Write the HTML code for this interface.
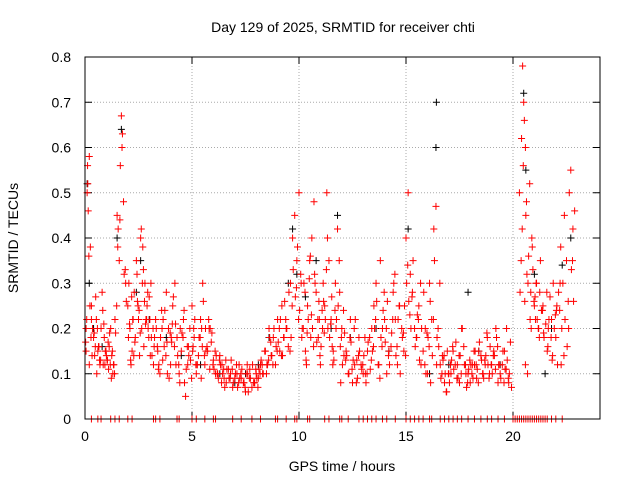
<!DOCTYPE html>
<html><head><meta charset="utf-8"><style>
body{margin:0;background:#fff;font-family:"Liberation Sans",sans-serif}
svg text{font-family:"Liberation Sans",sans-serif;font-size:14px;fill:#000}
</style></head><body>
<svg id="chart" width="640" height="480">
<rect x="0" y="0" width="640" height="480" fill="#fff"/>
<text x="343" y="32" text-anchor="middle">Day 129 of 2025, SRMTID for receiver chti</text>
<text x="342" y="471" text-anchor="middle">GPS time / hours</text>
<text transform="translate(18,238) rotate(-90)" text-anchor="middle">SRMTID / TECUs</text>
<g id="grid"></g><g id="ticks"></g><g id="marks"></g>
<rect x="85" y="57" width="515" height="362" fill="none" stroke="#000"/>
</svg>
<script>
const xTicks=[0,5,10,15,20];
const yTicks=[0,0.1,0.2,0.3,0.4,0.5,0.6,0.7,0.8];
const redT=[0.05,0.1,0.12,0.15,0.2,0.25,0.3,0.35,0.4,0.5,0.6,0.7,0.8,0.9,1.0,1.1,1.2,1.3,1.4,1.5,1.55,1.6,1.65,1.7,1.75,1.8,1.9,2.0,2.1,2.2,2.3,2.4,2.5,2.6,2.7,2.8,2.9,3.0,3.1,3.2,3.3,3.4,3.5,3.6,3.7,3.8,3.9,4.0,4.1,4.2,4.3,4.4,4.5,4.6,4.7,4.8,4.9,5.0,5.1,5.2,5.3,5.4,5.5,5.6,5.7,5.8,5.9,6.0,6.2,6.4,6.6,6.8,7.0,7.2,7.4,7.6,7.8,8.0,8.2,8.4,8.6,8.8,9.0,9.2,9.4,9.6,9.7,9.8,9.9,10.0,10.1,10.2,10.3,10.4,10.5,10.6,10.7,10.8,10.9,11.0,11.1,11.2,11.3,11.4,11.5,11.6,11.7,11.8,11.9,12.0,12.2,12.4,12.6,12.8,13.0,13.2,13.4,13.6,13.8,14.0,14.2,14.4,14.6,14.8,15.0,15.1,15.2,15.4,15.6,15.8,16.0,16.1,16.2,16.3,16.4,16.5,16.6,16.8,17.0,17.2,17.4,17.6,17.8,18.0,18.2,18.4,18.6,18.8,19.0,19.2,19.4,19.6,19.8,20.3,20.4,20.45,20.5,20.6,20.7,20.8,20.9,21.0,21.1,21.2,21.4,21.6,21.8,22.0,22.2,22.4,22.5,22.6,22.7,22.8,
0.05,0.2,0.3,0.45,0.55,0.65,0.75,0.85,0.95,1.05,1.15,1.25,1.35,2.05,2.15,2.25,2.35,2.45,2.55,2.65,2.75,2.85,2.95,3.05,3.25,3.45,3.65,3.85,4.05,4.25,4.45,4.65,4.85,5.05,5.25,5.45,5.65,5.85,6.1,6.3,6.5,6.7,6.9,7.1,7.3,7.5,7.7,7.9,8.1,8.3,8.5,8.7,8.9,9.1,9.3,9.5,10.15,10.35,10.55,10.75,10.95,11.15,11.35,11.55,11.75,11.95,12.1,12.3,12.5,12.7,12.9,13.1,13.3,13.5,13.7,13.9,14.1,14.3,14.5,14.7,14.9,15.3,15.5,15.7,15.9,16.15,16.45,16.7,16.9,17.1,17.3,17.5,17.7,17.9,18.1,18.3,18.5,18.7,18.9,19.1,19.3,19.5,19.7,20.55,20.65,20.85,21.05,21.25,21.45,21.65,21.85,22.05,22.25,22.45,22.65];
const redV=[0.2,0.5,0.56,0.46,0.58,0.38,0.22,0.2,0.18,0.27,0.15,0.12,0.28,0.18,0.14,0.11,0.2,0.1,0.22,0.45,0.42,0.35,0.56,0.67,0.63,0.48,0.3,0.25,0.2,0.15,0.28,0.35,0.22,0.4,0.38,0.3,0.25,0.27,0.18,0.12,0.22,0.15,0.1,0.2,0.16,0.28,0.2,0.12,0.25,0.3,0.18,0.1,0.15,0.22,0.05,0.12,0.2,0.25,0.18,0.1,0.14,0.22,0.3,0.12,0.16,0.2,0.17,0.13,0.1,0.12,0.08,0.1,0.09,0.12,0.08,0.1,0.07,0.1,0.12,0.15,0.2,0.18,0.22,0.25,0.2,0.3,0.4,0.45,0.35,0.5,0.3,0.2,0.15,0.25,0.35,0.4,0.48,0.28,0.18,0.12,0.2,0.25,0.5,0.35,0.22,0.15,0.3,0.42,0.28,0.2,0.15,0.22,0.12,0.18,0.1,0.15,0.2,0.3,0.35,0.22,0.15,0.28,0.12,0.2,0.4,0.5,0.32,0.2,0.25,0.15,0.1,0.3,0.22,0.42,0.47,0.2,0.12,0.08,0.1,0.15,0.12,0.2,0.1,0.08,0.12,0.15,0.1,0.18,0.12,0.2,0.1,0.15,0.08,0.5,0.62,0.78,0.7,0.45,0.3,0.22,0.38,0.25,0.3,0.2,0.25,0.15,0.22,0.18,0.3,0.45,0.35,0.2,0.55,0.42,
0.15,0.12,0.25,0.14,0.1,0.16,0.2,0.12,0.15,0.13,0.19,0.14,0.12,0.3,0.12,0.22,0.18,0.26,0.14,0.2,0.16,0.22,0.2,0.14,0.18,0.12,0.22,0.1,0.17,0.12,0.2,0.08,0.14,0.16,0.12,0.2,0.15,0.2,0.1,0.14,0.09,0.11,0.07,0.1,0.09,0.06,0.11,0.08,0.09,0.1,0.12,0.14,0.12,0.15,0.18,0.16,0.2,0.12,0.18,0.3,0.22,0.26,0.2,0.16,0.22,0.08,0.14,0.1,0.08,0.13,0.12,0.1,0.18,0.25,0.12,0.2,0.1,0.16,0.22,0.25,0.15,0.28,0.18,0.12,0.2,0.08,0.18,0.14,0.06,0.1,0.12,0.08,0.16,0.1,0.12,0.09,0.14,0.12,0.1,0.15,0.08,0.12,0.2,0.26,0.32,0.2,0.22,0.28,0.18,0.2,0.14,0.25,0.12];
const redT2=[0.03,0.13,0.23,0.33,0.43,0.53,0.63,0.73,0.83,0.93,1.03,1.13,1.23,1.33,1.43,1.53,1.63,1.73,1.83,1.93,2.03,2.13,2.23,2.33,2.43,2.53,2.63,2.73,2.83,2.93,3.03,3.13,3.23,3.33,3.43,3.53,3.63,3.73,3.83,3.93,4.03,4.13,4.23,4.33,4.43,4.53,4.63,4.73,4.83,4.93,5.03,5.13,5.23,5.33,5.43,5.53,5.63,5.73,5.83,5.93,6.03,6.13,6.23,6.33,6.43,6.53,6.63,6.73,6.83,6.93,7.03,7.13,7.23,7.33,7.43,7.53,7.63,7.73,7.83,7.93,8.03,8.13,8.23,8.33,8.43,8.53,8.63,8.73,8.83,8.93,9.03,9.13,9.23,9.33,9.43,9.53,9.63,9.73,9.83,9.93,10.03,10.13,10.23,10.33,10.43,10.53,10.63,10.73,10.83,10.93,11.03,11.13,11.23,11.33,11.43,11.53,11.63,11.73,11.83,11.93,12.03,12.13,12.23,12.33,12.43,12.53,12.63,12.73,12.83,12.93,13.03,13.13,13.23,13.33,13.43,13.53,13.63,13.73,13.83,13.93,14.03,14.13,14.23,14.33,14.43,14.53,14.63,14.73,14.83,14.93,15.03,15.13,15.23,15.33,15.43,15.53,15.63,15.73,15.83,15.93,16.03,16.13,16.23,16.33,16.43,16.53,16.63,16.73,16.83,16.93,17.03,17.13,17.23,17.33,17.43,17.53,17.63,17.73,17.83,17.93,18.03,18.13,18.23,18.33,18.43,18.53,18.63,18.73,18.83,18.93,19.03,19.13,19.23,19.33,19.43,19.53,19.63,19.73,19.83,19.93,20.33,20.38,20.43,20.48,20.53,20.58,20.63,20.73,20.83,20.93,21.03,21.13,21.23,21.33,21.43,21.53,21.63,21.73,21.83,21.93,22.03,22.13,22.23,22.33,22.43,22.53,22.63,22.73,22.83,22.88];
const redV2=[0.17,0.52,0.25,0.14,0.19,0.22,0.16,0.13,0.24,0.12,0.13,0.16,0.09,0.12,0.19,0.38,0.44,0.6,0.32,0.26,0.18,0.13,0.22,0.17,0.32,0.24,0.42,0.33,0.21,0.28,0.22,0.14,0.16,0.2,0.11,0.18,0.13,0.24,0.17,0.09,0.18,0.27,0.21,0.14,0.08,0.19,0.24,0.11,0.16,0.13,0.15,0.22,0.12,0.18,0.09,0.26,0.2,0.15,0.11,0.19,0.11,0.14,0.09,0.12,0.1,0.07,0.11,0.09,0.13,0.08,0.1,0.07,0.09,0.11,0.08,0.1,0.06,0.09,0.12,0.08,0.09,0.11,0.13,0.1,0.15,0.12,0.18,0.14,0.2,0.16,0.17,0.22,0.14,0.26,0.2,0.28,0.18,0.33,0.27,0.38,0.24,0.18,0.3,0.13,0.22,0.36,0.2,0.32,0.17,0.26,0.16,0.3,0.22,0.4,0.18,0.27,0.13,0.2,0.25,0.16,0.12,0.19,0.14,0.1,0.17,0.13,0.22,0.09,0.15,0.11,0.14,0.08,0.17,0.11,0.15,0.2,0.26,0.12,0.18,0.24,0.17,0.26,0.12,0.19,0.3,0.14,0.22,0.1,0.18,0.25,0.3,0.26,0.2,0.35,0.16,0.23,0.13,0.2,0.28,0.1,0.18,0.26,0.14,0.35,0.12,0.16,0.09,0.13,0.1,0.15,0.08,0.13,0.11,0.17,0.09,0.14,0.2,0.12,0.07,0.11,0.12,0.09,0.15,0.11,0.17,0.13,0.09,0.14,0.12,0.16,0.1,0.14,0.18,0.12,0.09,0.15,0.11,0.13,0.1,0.07,0.28,0.35,0.42,0.56,0.66,0.6,0.48,0.36,0.28,0.33,0.27,0.22,0.18,0.24,0.19,0.21,0.16,0.27,0.13,0.2,0.24,0.28,0.38,0.3,0.22,0.16,0.5,0.33,0.26,0.46];
const redT3=[0.08,0.18,0.28,0.48,0.58,0.68,0.88,0.98,1.08,1.18,1.28,1.38,1.48,1.88,2.08,2.18,2.28,2.48,2.58,2.68,2.78,2.88,2.98,3.08,3.18,3.38,3.58,3.78,3.98,4.08,4.18,4.38,4.58,4.78,4.98,5.08,5.18,5.38,5.48,5.58,5.78,5.98,6.08,6.18,6.28,6.38,6.48,6.58,6.78,6.88,7.08,7.18,7.28,7.48,7.58,7.68,7.88,7.98,8.08,8.18,8.28,8.48,8.58,8.68,8.78,8.98,9.08,9.18,9.28,9.38,9.58,9.68,9.88,9.98,10.08,10.28,10.38,10.48,10.58,10.68,10.88,10.98,11.08,11.18,11.28,11.48,11.58,11.68,11.88,11.98,12.08,12.18,12.38,12.48,12.58,12.68,12.78,12.98,13.08,13.18,13.38,13.48,13.58,13.78,13.88,13.98,14.08,14.18,14.38,14.48,14.58,14.68,14.88,14.98,15.08,15.18,15.28,15.48,15.58,15.68,15.88,15.98,16.08,16.28,16.58,16.68,16.78,16.88,16.98,17.08,17.18,17.38,17.48,17.58,17.78,17.88,17.98,18.08,18.18,18.28,18.38,18.58,18.68,18.78,18.88,18.98,19.08,19.18,19.28,19.38,19.58,19.68,19.78,19.88,20.58,20.68,20.78,20.88,20.98,21.08,21.18,21.28,21.38,21.58,21.68,21.78,21.88,21.98,22.08,22.18,22.28,22.38,22.58,22.78];
const redV3=[0.22,0.36,0.18,0.16,0.2,0.13,0.21,0.15,0.17,0.12,0.15,0.1,0.25,0.33,0.21,0.27,0.14,0.25,0.19,0.3,0.26,0.22,0.18,0.3,0.2,0.16,0.24,0.14,0.19,0.21,0.16,0.12,0.18,0.16,0.09,0.2,0.12,0.18,0.16,0.14,0.22,0.12,0.15,0.1,0.13,0.08,0.11,0.13,0.09,0.11,0.12,0.08,0.1,0.07,0.12,0.09,0.08,0.11,0.07,0.1,0.12,0.1,0.13,0.17,0.12,0.15,0.2,0.14,0.18,0.22,0.15,0.25,0.29,0.22,0.32,0.28,0.19,0.31,0.23,0.16,0.22,0.14,0.24,0.19,0.33,0.21,0.12,0.24,0.35,0.18,0.24,0.13,0.18,0.11,0.2,0.08,0.14,0.12,0.18,0.1,0.13,0.16,0.22,0.09,0.16,0.28,0.2,0.14,0.22,0.32,0.16,0.25,0.19,0.14,0.34,0.23,0.27,0.18,0.22,0.3,0.12,0.19,0.16,0.22,0.3,0.1,0.14,0.06,0.1,0.12,0.16,0.09,0.14,0.1,0.12,0.08,0.13,0.1,0.15,0.12,0.08,0.1,0.13,0.19,0.09,0.12,0.14,0.11,0.16,0.12,0.08,0.11,0.09,0.17,0.12,0.1,0.52,0.4,0.26,0.3,0.2,0.35,0.24,0.28,0.22,0.18,0.3,0.23,0.12,0.24,0.2,0.14,0.26,0.35,0.28,0.38];
const zeroT=[0.3,0.6,0.75,1.2,1.4,1.6,2.0,2.2,3.2,3.3,3.5,4.3,4.4,5.0,5.2,5.6,6.0,6.1,6.9,7.3,7.8,8.2,8.9,9.0,9.4,9.8,9.9,10.4,10.5,11.2,11.4,11.9,12.0,12.3,12.8,13.0,13.2,13.4,13.6,13.9,14.1,14.5,15.0,15.2,15.4,15.6,15.8,16.1,16.2,16.6,16.8,17.0,17.2,17.4,17.6,17.9,18.2,18.5,18.8,19.0,19.3,19.6,20.0,20.1,20.2,20.3,20.4,20.5,20.6,20.7,20.8,20.9,21.0,21.1,21.2,21.3,21.4,21.5,21.6,21.8,22.0,22.3];
const blackT=[0.1,0.2,0.4,0.8,1.5,1.7,2.4,2.6,3.0,3.8,4.5,5.4,6.3,7.0,7.5,8.1,8.6,9.5,9.7,9.9,10.3,10.8,11.5,11.8,12.4,13.6,14.2,15.1,16.1,16.4,16.42,17.0,17.9,18.4,19.4,20.5,20.6,21.0,21.5,21.8,22.3,22.7];
const blackV=[0.52,0.3,0.2,0.16,0.4,0.64,0.28,0.35,0.22,0.18,0.14,0.12,0.1,0.08,0.1,0.12,0.18,0.3,0.42,0.32,0.27,0.35,0.2,0.45,0.18,0.2,0.15,0.42,0.1,0.6,0.7,0.12,0.28,0.15,0.12,0.72,0.55,0.32,0.1,0.2,0.34,0.4];
const X=t=>85+t*21.4, Y=v=>419-v*452.5;
const NS='http://www.w3.org/2000/svg';
const grid=document.getElementById('grid'),ticks=document.getElementById('ticks'),marks=document.getElementById('marks');
function mk(tag,a,p){const e=document.createElementNS(NS,tag);for(const k in a)e.setAttribute(k,a[k]);p.appendChild(e);return e;}
xTicks.forEach(t=>{const x=X(t);
 const g=mk('line',{x1:x,x2:x,y1:57,y2:419,stroke:'#aaa','stroke-dasharray':'1,2'},grid);
 
 
 mk('line',{x1:x,x2:x,y1:419,y2:412,stroke:'#000'},ticks);mk('line',{x1:x,x2:x,y1:57,y2:64,stroke:'#000'},ticks);
 const l=mk('text',{x:x,y:441,'text-anchor':'middle'},ticks);l.textContent=t;
 
 });
yTicks.forEach(v=>{const y=Y(v);
 const g=mk('line',{x1:85,x2:600,y1:y,y2:y,stroke:'#aaa','stroke-dasharray':'1,2'},grid);
 
 
 mk('line',{x1:85,x2:92,y1:y,y2:y,stroke:'#000'},ticks);mk('line',{x1:600,x2:593,y1:y,y2:y,stroke:'#000'},ticks);
 const l=mk('text',{x:71,y:y+5,'text-anchor':'end'},ticks);l.textContent=v===0?'0':v.toFixed(1);
 
 });
function plus(t,v,c,name){const x=X(t),y=Y(v);
 const p=mk('path',{d:`M${x-3.5},${y}h7M${x},${y-3.5}v7`,stroke:c,'stroke-width':1,fill:'none'},marks);
 
 }
blackT.forEach((t,i)=>plus(t,blackV[i],'#000','black-point'));
redT.forEach((t,i)=>plus(t,redV[i],'#f00','red-point'));
redT2.forEach((t,i)=>plus(t,redV2[i],'#f00','red-point'));
redT3.forEach((t,i)=>plus(t,redV3[i],'#f00','red-point'));
zeroT.forEach(t=>plus(t,0,'#f00','zero-point'));
</script>
</body></html>
